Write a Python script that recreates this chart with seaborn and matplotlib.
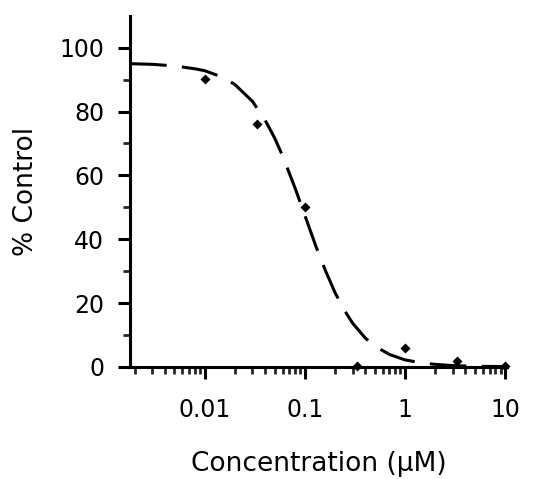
import numpy as np
import pandas as pd
import matplotlib
matplotlib.use('Agg')
import matplotlib.pyplot as plt
from matplotlib.ticker import LogLocator, FixedLocator, NullFormatter
import seaborn as sns

# ---- data ----
conc = [0.01, 0.033, 0.1, 0.33, 1.0, 3.3, 10.0]
pct_control = [90.3, 76.0, 50.0, 0.3, 6.0, 2.0, 0.3]

fit_x = [0.0018, 0.003, 0.005, 0.008, 0.01, 0.015, 0.02, 0.03, 0.04, 0.05,
         0.06, 0.08, 0.1, 0.13, 0.16, 0.2, 0.25, 0.3, 0.4, 0.5, 0.7, 1.0,
         1.5, 2.0, 3.0, 5.0, 10.0]
fit_y = [95.0, 94.8, 94.3, 93.4, 92.8, 90.8, 88.5, 83.2, 77.4, 71.7,
         66.1, 56.0, 47.5, 37.5, 30.3, 23.3, 17.6, 13.7, 9.1, 6.5, 3.9, 2.2,
         1.2, 0.8, 0.4, 0.2, 0.1]

x_ticks = [0.01, 0.1, 1, 10]
x_ticklabels = ['0.01', '0.1', '1', '10']
y_ticks = [0, 20, 40, 60, 80, 100]

sns.set_theme(style='ticks')
plt.rcParams['font.family'] = ['DejaVu Sans']

fig = plt.figure(figsize=(5.33, 4.79), dpi=100)
ax = fig.add_axes([0.244, 0.234, 0.707, 0.733])

fit_df = pd.DataFrame({'conc': fit_x, 'pct': fit_y})
pts_df = pd.DataFrame({'conc': conc, 'pct': pct_control})

sns.lineplot(data=fit_df, x='conc', y='pct', ax=ax, color='black',
             linewidth=2.2, estimator=None, sort=True)
ax.lines[-1].set_dashes([12, 5])
sns.scatterplot(data=pts_df, x='conc', y='pct', ax=ax, color='black',
                marker='D', s=26, edgecolor='black', linewidth=0, zorder=5,
                clip_on=False)

ax.set_xscale('log')
ax.set_xlim(0.0018, 10.4)
ax.set_ylim(0, 110)

ax.xaxis.set_major_locator(FixedLocator(x_ticks))
ax.set_xticklabels(x_ticklabels)
ax.xaxis.set_minor_locator(LogLocator(base=10, subs=np.arange(2, 10)))
ax.xaxis.set_minor_formatter(NullFormatter())
ax.set_yticks(y_ticks)
ax.yaxis.set_minor_locator(FixedLocator([10, 30, 50, 70, 90]))

for side in ['top', 'right']:
    ax.spines[side].set_visible(False)
for side in ['left', 'bottom']:
    ax.spines[side].set_linewidth(2.2)
    ax.spines[side].set_color('black')

ax.tick_params(axis='x', which='major', direction='out', length=8.6, width=2.2,
               pad=14, labelsize=17, colors='black')
ax.tick_params(axis='x', which='minor', direction='out', length=5, width=2)
ax.tick_params(axis='y', which='major', direction='out', length=8.6, width=2.2,
               pad=10, labelsize=17, colors='black')
ax.tick_params(axis='y', which='minor', direction='out', length=5, width=2)

ax.set_xlabel('Concentration (\u03bcM)', fontsize=19, labelpad=21,
              color='black')
ax.set_ylabel('% Control', fontsize=19, labelpad=15, color='black')

fig.savefig('out.png', dpi=100)
